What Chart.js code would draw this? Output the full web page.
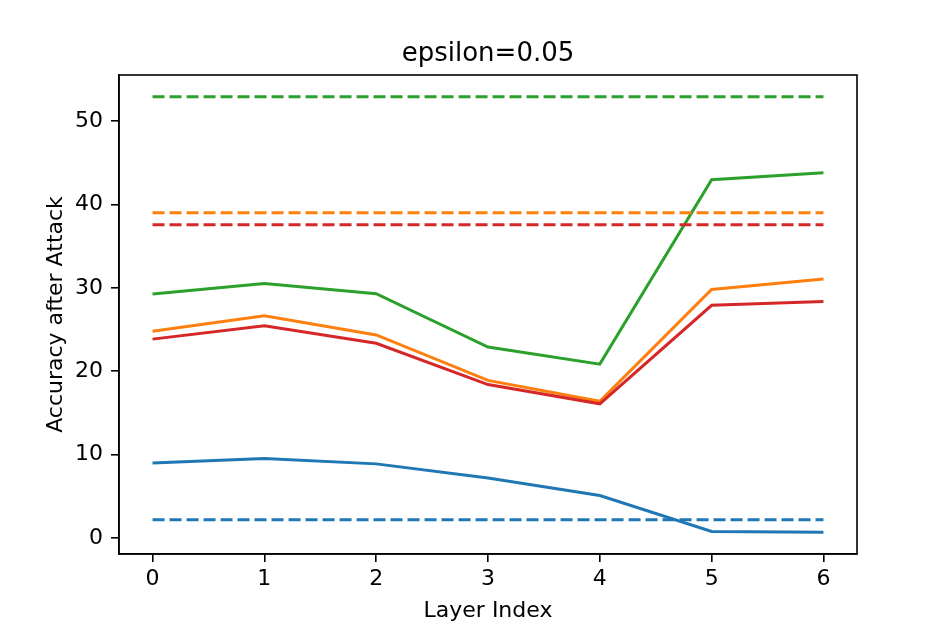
<!DOCTYPE html>
<html>
<head>
<meta charset="utf-8">
<title>epsilon=0.05</title>
<script src="https://cdn.jsdelivr.net/npm/chart.js@4/dist/chart.umd.min.js"></script>
<style>
	html, body {
		margin: 0;
		padding: 0;
		background: #ffffff;
	}
	#wrap {
		width: 952px;
		height: 634px;
	}
</style>
</head>
<body>
<div id="wrap"><canvas id="chart" width="952" height="634"></canvas></div>
<script>
"use strict";

const titleText = "epsilon=0.05";
const layers = [0, 1, 2, 3, 4, 5, 6];
const yTicks = [0, 10, 20, 30, 40, 50];

// solid lines: accuracy after attacking at each layer
const blueAcc = [9.0, 9.55, 8.9, 7.2, 5.1, 0.8, 0.7];
const orangeAcc = [24.8, 26.65, 24.35, 18.9, 16.4, 29.8, 31.05];
const greenAcc = [29.25, 30.5, 29.3, 22.9, 20.85, 42.95, 43.8];
const redAcc = [23.85, 25.45, 23.35, 18.4, 16.1, 27.9, 28.35];

// dashed lines: baseline accuracy
const blueBase = [2.2, 2.2, 2.2, 2.2, 2.2, 2.2, 2.2];
const orangeBase = [39.0, 39.0, 39.0, 39.0, 39.0, 39.0, 39.0];
const greenBase = [52.9, 52.9, 52.9, 52.9, 52.9, 52.9, 52.9];
const redBase = [37.55, 37.55, 37.55, 37.55, 37.55, 37.55, 37.55];

const FONT = "'DejaVu Sans', 'Liberation Sans', sans-serif";

function toPoints(values) {
	return values.map((v, i) => ({ x: layers[i], y: v }));
}

function lineSet(values, color, dashed, order) {
	return {
		data: toPoints(values),
		borderColor: color,
		backgroundColor: color,
		borderWidth: 3,
		borderDash: dashed ? [12, 5] : [],
		pointRadius: 0,
		tension: 0,
		fill: false,
		order: order,
	};
}

// matplotlib draws a full box round the axes, and centres the title over the axes
const frameBox = {
	id: "frameBox",
	afterDatasetsDraw(chart) {
		const a = chart.chartArea;
		const ctx = chart.ctx;
		ctx.save();
		ctx.strokeStyle = "#000000";
		ctx.lineWidth = 1.6;
		ctx.strokeRect(a.left, a.top, a.right - a.left, a.bottom - a.top);
		ctx.fillStyle = "#000000";
		ctx.font = "26px " + FONT;
		ctx.textAlign = "center";
		ctx.textBaseline = "alphabetic";
		ctx.fillText(titleText, (a.left + a.right) / 2, a.top - 14);
		ctx.restore();
	},
};

window.onload = () => {
	const canvas = document.getElementById("chart");
	const chart = new Chart(canvas, {
		type: "line",
		data: {
			datasets: [
				lineSet(blueAcc, "#1f77b4", false, 8),
				lineSet(orangeAcc, "#ff7f0e", false, 7),
				lineSet(greenAcc, "#2ca02c", false, 6),
				lineSet(redAcc, "#d62728", false, 5),
				lineSet(blueBase, "#1f77b4", true, 4),
				lineSet(orangeBase, "#ff7f0e", true, 3),
				lineSet(greenBase, "#2ca02c", true, 2),
				lineSet(redBase, "#d62728", true, 1),
			],
		},
		options: {
			responsive: false,
			animation: false,
			devicePixelRatio: 1,
			layout: {
				padding: { left: 0, right: 95, top: 75, bottom: 0 },
			},
			plugins: {
				legend: { display: false },
				tooltip: { enabled: false },
				title: { display: false },
			},
			scales: {
				x: {
					type: "linear",
					min: -0.3,
					max: 6.3,
					afterBuildTicks: scale => {
						scale.ticks = layers.map(v => ({ value: v }));
					},
					afterFit: scale => {
						scale.height = 80;
					},
					grid: {
						display: true,
						drawOnChartArea: false,
						drawTicks: true,
						tickLength: 8,
						color: "#000000",
						lineWidth: 1.6,
					},
					border: { display: true, color: "#000000", width: 1.6 },
					ticks: {
						color: "#000000",
						font: { family: FONT, size: 22 },
						padding: 4,
						maxRotation: 0,
						callback: v => String(v),
					},
					title: {
						display: true,
						text: "Layer Index",
						color: "#000000",
						font: { family: FONT, size: 22 },
						padding: { top: 0, bottom: 10 },
					},
				},
				y: {
					type: "linear",
					min: -1.9,
					max: 55.5,
					afterBuildTicks: scale => {
						scale.ticks = yTicks.map(v => ({ value: v }));
					},
					afterFit: scale => {
						scale.width = 119;
					},
					grid: {
						display: true,
						drawOnChartArea: false,
						drawTicks: true,
						tickLength: 8,
						color: "#000000",
						lineWidth: 1.6,
					},
					border: { display: true, color: "#000000", width: 1.6 },
					ticks: {
						color: "#000000",
						font: { family: FONT, size: 22 },
						padding: 8,
						callback: v => String(v),
					},
					title: {
						display: true,
						text: "Accuracy after Attack",
						color: "#000000",
						font: { family: FONT, size: 22 },
						padding: { top: 43, bottom: 0 },
					},
				},
			},
		},
		plugins: [frameBox],
	});
};
</script>
</body>
</html>
